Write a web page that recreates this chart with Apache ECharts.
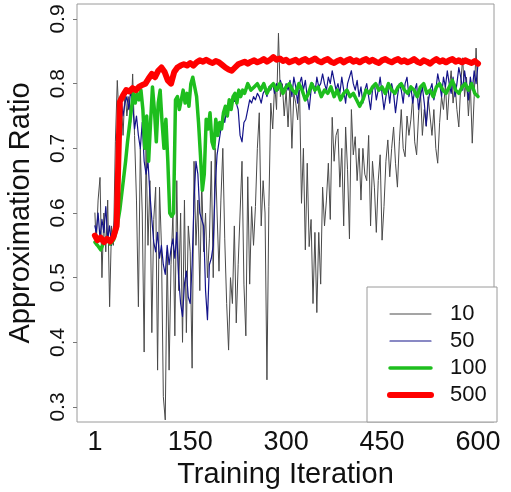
<!DOCTYPE html>
<html>
<head>
<meta charset="utf-8">
<script src="https://cdn.jsdelivr.net/npm/echarts@6/dist/echarts.min.js"></script>
<style>
html,body{margin:0;padding:0;background:#fff;}
#chart{width:511px;height:492px;}
</style>
</head>
<body>
<div id="chart"></div>
<script>
// Iterations sampled for the noisy series (10, 50)
var itersFine = [1,3,6,9,12,15,18,21,24,27,30,33,36,39,42,45,48,51,54,57,60,63,66,69,72,75,78,81,84,87,90,93,96,99,102,105,108,111,114,117,120,123,126,129,132,135,138,141,144,147,150,153,156,159,162,165,168,171,174,177,180,183,186,189,192,195,198,201,204,207,210,213,216,219,222,225,228,231,234,237,240,243,246,249,252,255,258,261,264,267,270,273,276,279,282,285,288,291,294,297,300,303,306,309,312,315,318,321,324,327,330,333,336,339,342,345,348,351,354,357,360,363,366,369,372,375,378,381,384,387,390,393,396,399,402,405,408,411,414,417,420,423,426,429,432,435,438,441,444,447,450,453,456,459,462,465,468,471,474,477,480,483,486,489,492,495,498,501,504,507,510,513,516,519,522,525,528,531,534,537,540,543,546,549,552,555,558,561,564,567,570,573,576,579,582,585,588,591,594,597,600];
// Iterations sampled for series 100 (denser where it oscillates)
var itersGreen = [1,5,10,15,20,25,30,35,40,43,46,49,52,55,58,61,64,67,70,73,76,79,82,85,88,91,94,97,100,103,106,109,112,115,118,121,124,127,130,133,136,139,142,145,148,151,154,157,160,163,166,169,172,175,178,181,184,187,190,193,196,199,202,205,208,211,214,217,220,223,226,229,232,235,240,245,250,255,260,265,270,275,280,285,290,295,300,305,310,315,320,325,330,335,340,345,350,355,360,365,370,375,380,385,390,395,400,405,410,415,420,425,430,435,440,445,450,455,460,465,470,475,480,485,490,495,500,505,510,515,520,525,530,535,540,545,550,555,560,565,570,575,580,585,590,595,600];
// Iterations sampled for series 500
var itersCoarse = [1,5,10,15,20,25,30,35,40,45,50,55,60,65,70,75,80,85,90,95,100,105,110,115,120,125,130,135,140,145,150,155,160,165,170,175,180,185,190,195,200,205,210,215,220,225,230,235,240,245,250,255,260,265,270,275,280,285,290,295,300,305,310,315,320,325,330,335,340,345,350,355,360,365,370,375,380,385,390,395,400,405,410,415,420,425,430,435,440,445,450,455,460,465,470,475,480,485,490,495,500,505,510,515,520,525,530,535,540,545,550,555,560,565,570,575,580,585,590,595,600];

var ratio10 = [0.60,0.55,0.62,0.655,0.50,0.60,0.54,0.62,0.455,0.58,0.55,0.71,0.805,0.74,0.78,0.72,0.79,0.75,0.78,0.74,
0.815,0.72,0.62,0.455,0.70,0.60,0.385,0.70,0.55,0.65,0.415,0.59,0.64,0.357,0.64,0.55,0.316,0.28,0.54,0.357,
0.52,0.60,0.41,0.65,0.48,0.60,0.40,0.62,0.415,0.58,0.54,0.36,0.68,0.55,0.62,0.48,0.65,0.54,0.60,0.50,
0.56,0.68,0.50,0.70,0.60,0.51,0.62,0.70,0.56,0.46,0.388,0.50,0.46,0.58,0.43,0.52,0.60,0.68,0.49,0.41,
0.656,0.49,0.61,0.55,0.61,0.70,0.755,0.58,0.65,0.60,0.342,0.61,0.77,0.73,0.80,0.76,0.878,0.78,0.80,0.75,
0.79,0.733,0.80,0.70,0.785,0.77,0.744,0.79,0.615,0.70,0.543,0.677,0.548,0.59,0.46,0.57,0.446,0.57,0.49,0.64,
0.58,0.62,0.677,0.59,0.748,0.68,0.72,0.73,0.64,0.70,0.58,0.733,0.667,0.56,0.76,0.69,0.718,0.65,0.70,0.62,
0.70,0.66,0.65,0.72,0.58,0.68,0.64,0.57,0.65,0.69,0.558,0.61,0.68,0.713,0.656,0.70,0.733,0.677,0.64,0.71,
0.76,0.70,0.687,0.75,0.72,0.744,0.78,0.71,0.69,0.75,0.79,0.72,0.76,0.734,0.78,0.75,0.72,0.76,0.70,0.677,
0.74,0.78,0.76,0.80,0.744,0.79,0.82,0.77,0.80,0.76,0.733,0.80,0.84,0.78,0.81,0.75,0.80,0.708,0.78,0.855,0.78];

var ratio50 = [0.58,0.57,0.60,0.56,0.59,0.57,0.61,0.56,0.58,0.55,0.57,0.60,0.70,0.76,0.775,0.75,0.77,0.78,0.76,0.79,
0.77,0.73,0.75,0.72,0.70,0.74,0.68,0.66,0.68,0.63,0.59,0.555,0.54,0.57,0.53,0.55,0.52,0.505,0.55,0.52,
0.545,0.56,0.53,0.57,0.50,0.46,0.44,0.49,0.51,0.47,0.46,0.52,0.62,0.68,0.66,0.60,0.59,0.58,0.48,0.435,
0.52,0.53,0.55,0.64,0.69,0.71,0.73,0.755,0.74,0.76,0.77,0.76,0.77,0.775,0.77,0.76,0.72,0.71,0.74,0.745,
0.76,0.775,0.77,0.78,0.775,0.785,0.78,0.77,0.785,0.79,0.78,0.795,0.79,0.80,0.785,0.80,0.79,0.805,0.795,0.79,
0.80,0.79,0.805,0.78,0.81,0.795,0.77,0.80,0.81,0.79,0.805,0.78,0.76,0.79,0.80,0.785,0.81,0.795,0.80,0.815,
0.80,0.79,0.81,0.80,0.82,0.805,0.79,0.80,0.785,0.81,0.79,0.77,0.80,0.81,0.82,0.80,0.79,0.805,0.78,0.795,
0.77,0.79,0.80,0.78,0.76,0.79,0.80,0.775,0.79,0.81,0.785,0.76,0.78,0.795,0.77,0.80,0.785,0.755,0.78,0.80,
0.79,0.77,0.80,0.81,0.78,0.795,0.77,0.79,0.80,0.76,0.78,0.795,0.77,0.735,0.77,0.79,0.80,0.775,0.79,0.815,
0.80,0.78,0.81,0.795,0.82,0.80,0.785,0.81,0.78,0.80,0.825,0.81,0.79,0.82,0.80,0.775,0.81,0.79,0.82,0.80,0.83];

var ratio100 = [0.555,0.55,0.543,0.555,0.56,0.552,0.558,0.575,
0.605,0.63,0.655,0.68,0.71,0.735,0.76,0.785,0.77,0.785,0.775,0.79,0.76,0.70,0.75,0.68,0.74,0.795,0.76,0.71,0.77,0.79,
0.74,0.70,0.745,0.68,0.60,0.595,0.60,0.775,0.78,0.76,0.775,0.79,0.77,0.785,0.765,0.80,0.81,0.795,0.78,0.74,
0.69,0.635,0.66,0.745,0.73,0.755,0.71,0.70,0.745,0.72,0.74,0.73,0.755,0.765,0.75,0.775,0.76,0.78,0.785,0.77,
0.79,0.78,0.79,
0.785,0.80,0.79,0.795,0.80,0.79,0.80,0.785,0.795,0.80,0.79,0.80,0.785,
0.795,0.80,0.79,0.785,0.80,0.79,0.775,0.785,0.80,0.79,0.795,0.78,0.79,0.785,0.795,0.78,0.79,0.775,0.785,0.79,
0.78,0.785,0.775,0.765,0.775,0.79,0.785,0.795,0.80,0.79,0.795,0.785,0.80,0.79,0.785,0.795,0.80,0.79,0.785,0.795,
0.79,0.78,0.795,0.80,0.785,0.79,0.78,0.795,0.80,0.79,0.785,0.795,0.805,0.79,0.785,0.795,0.80,0.79,0.80,0.785,0.78];

var ratio500 = [0.565,0.558,0.562,0.555,0.56,0.556,0.563,0.58,0.772,0.782,0.79,0.788,0.793,0.79,0.795,0.798,0.80,0.808,0.815,0.81,
0.82,0.825,0.818,0.805,0.80,0.818,0.825,0.828,0.83,0.828,0.832,0.828,0.833,0.836,0.834,0.837,0.834,0.832,0.835,0.833,
0.829,0.825,0.822,0.82,0.825,0.83,0.832,0.834,0.831,0.834,0.836,0.833,0.835,0.838,0.834,0.837,0.841,0.837,0.839,0.835,
0.837,0.833,0.835,0.837,0.833,0.836,0.838,0.834,0.836,0.839,0.835,0.833,0.836,0.838,0.834,0.832,0.835,0.837,0.833,0.836,
0.838,0.834,0.836,0.833,0.836,0.838,0.834,0.837,0.834,0.832,0.836,0.838,0.835,0.833,0.836,0.838,0.834,0.836,0.833,0.835,
0.838,0.834,0.832,0.836,0.834,0.831,0.835,0.838,0.834,0.836,0.833,0.836,0.838,0.834,0.836,0.833,0.836,0.834,0.832,0.835,0.831];

var seriesNames = ['10','50','100','500'];
var xTicks = [1,150,300,450,600];
var yTicks = [0.3,0.4,0.5,0.6,0.7,0.8,0.9];

function pairs(xs, ys){
  var out = [];
  var n = Math.min(xs.length, ys.length);
  for (var i = 0; i < n; i++) out.push([xs[i], ys[i]]);
  return out;
}

var FONT = '"Liberation Sans", Arial, Helvetica, sans-serif';
var chart = echarts.init(document.getElementById('chart'), null, {renderer:'canvas'});

function lineSeries(name, data, color, width){
  return {
    name: name, type: 'line', data: data,
    symbol: 'none', showSymbol: false, silent: true, animation: false,
    sampling: null,
    lineStyle: {color: color, width: width, cap: 'round', join: 'round'},
    itemStyle: {color: color},
    emphasis: {disabled: true}
  };
}

chart.setOption({
  animation: false,
  backgroundColor: '#fff',
  textStyle: {fontFamily: FONT},
  grid: {left: 77, right: 17, top: 4, bottom: 70, show: true, borderColor: '#9a9a9a', borderWidth: 1, backgroundColor: 'transparent', containLabel: false, outerBoundsMode: 'none'},
  xAxis: {
    type: 'value', min: -27, max: 625,
    axisLine: {show: false, onZero: false}, axisTick: {show: false}, splitLine: {show: false},
    axisLabel: {customValues: xTicks, fontSize: 27, color: '#111', margin: 7, fontFamily: FONT},
    name: 'Training Iteration', nameLocation: 'middle', nameGap: 36,
    nameTextStyle: {fontSize: 29, color: '#111', fontFamily: FONT}
  },
  yAxis: {
    type: 'value', min: 0.2768, max: 0.9232,
    axisLine: {show: false, onZero: false},
    axisTick: {show: true, length: 4, customValues: yTicks, lineStyle: {color: '#777'}},
    splitLine: {show: false},
    axisLabel: {customValues: yTicks, rotate: 90, fontSize: 21, color: '#111', margin: 8, fontFamily: FONT,
      formatter: function(v){ return v.toFixed(1); }},
    name: 'Approximation Ratio', nameLocation: 'middle', nameGap: 42,
    nameTextStyle: {fontSize: 29, color: '#111', fontFamily: FONT}
  },
  legend: {
    data: seriesNames, orient: 'vertical', left: 367, top: 287,
    borderColor: '#9a9a9a', borderWidth: 1, borderRadius: 0,
    backgroundColor: '#fff',
    padding: [16, 9, 16, 20], itemWidth: 41, itemHeight: 20, itemGap: 5,
    selectedMode: false,
    itemStyle: {color: 'rgba(0,0,0,0)', borderColor: 'rgba(0,0,0,0)', borderWidth: 0, opacity: 0},
    lineStyle: {width: 'inherit', cap: 'round'},
    textStyle: {fontSize: 22, color: '#111', fontFamily: FONT, padding: [0,0,0,14], width: 38, lineHeight: 22}
  },
  series: [
    lineSeries(seriesNames[0], pairs(itersFine, ratio10), '#4a4a4a', 1),
    lineSeries(seriesNames[1], pairs(itersFine, ratio50), '#14148a', 1.2),
    lineSeries(seriesNames[2], pairs(itersGreen, ratio100), '#1ebe1e', 3.5),
    lineSeries(seriesNames[3], pairs(itersCoarse, ratio500), '#ff0000', 6)
  ]
});
</script>
</body>
</html>
